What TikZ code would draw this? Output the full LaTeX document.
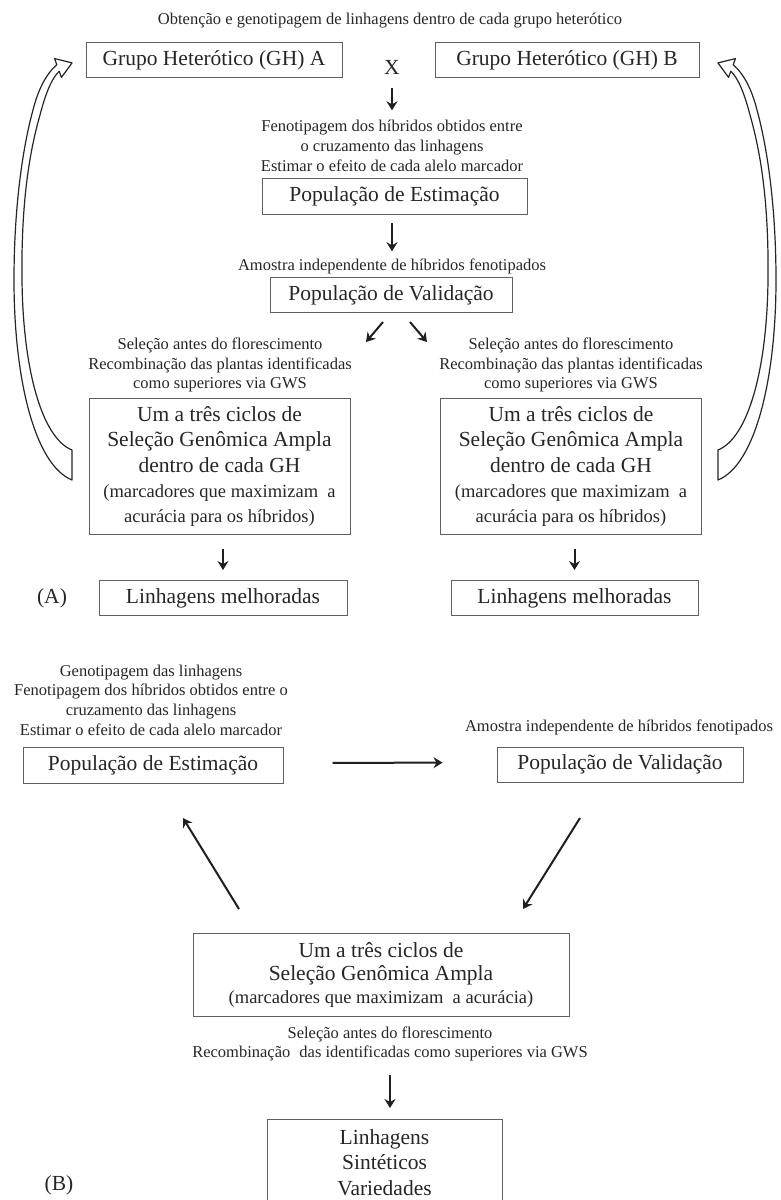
\documentclass[tikz,border=0pt]{standalone}
\usepackage{fontspec}
\setmainfont{Liberation Serif}
\usetikzlibrary{arrows.meta}
\newcommand\bxf{\fontsize{21.5}{25.5}\selectfont}
\newcommand\smf{\fontsize{16.5}{19.7}\selectfont}
\newcommand\pmf{\fontsize{18.5}{24}\selectfont}
\begin{document}
\begin{tikzpicture}[x=1pt,y=-1pt,
 bx/.style={draw=black!62, line width=1pt, inner sep=0pt, minimum height=35pt, font=\bxf, text=black!85},
 txt/.style={inner sep=0pt, align=center, font=\smf, text=black!85},
 arr/.style={draw=black!88, line width=2pt, -{Stealth[length=9pt,width=11pt,inset=3pt]}},
 hollow/.style={draw=black!85, line width=1.2pt, fill=white, line join=round}]
\useasboundingbox (0,0) rectangle (781,1200);
\clip (0,0) rectangle (781,1200);

% ---------- Part A ----------
\node[txt] (title) at (390,21) {Obtenção e genotipagem de linhagens dentro de cada grupo heterótico};
\node[bx, minimum width=256pt] (gha) at (214,60) {Grupo Heterótico (GH) A};
\node[bx, minimum width=264pt] (ghb) at (567,60) {Grupo Heterótico (GH) B};
\node[font=\bxf, inner sep=0pt, text=black!85] (x) at (392,67) {X};
\node[txt] (fen) at (392,146) {Fenotipagem dos híbridos obtidos entre\\o cruzamento das linhagens\\Estimar o efeito de cada alelo marcador};
\node[bx, minimum width=265pt, minimum height=36pt] (esta) at (394.5,196) {População de Estimação};
\node[txt] (amo) at (392,266) {Amostra independente de híbridos fenotipados};
\node[bx, minimum width=242pt] (vala) at (391,295) {População de Validação};
\node[txt] (sell) at (220,365) {Seleção antes do florescimento\\Recombinação das plantas identificadas\\como superiores via GWS};
\node[txt] (selr) at (571,365) {Seleção antes do florescimento\\Recombinação das plantas identificadas\\como superiores via GWS};
\node[bx, minimum width=261pt, minimum height=136pt, align=center] (bigl) at (219.5,466)
  {Um a três ciclos de\\Seleção Genômica Ampla\\dentro de cada GH\\{\pmf (marcadores que maximizam\ \ a}\\[-1pt]{\pmf acurácia para os híbridos)}};
\node[bx, minimum width=261pt, minimum height=136pt, align=center] (bigr) at (571,466)
  {Um a três ciclos de\\Seleção Genômica Ampla\\dentro de cada GH\\{\pmf (marcadores que maximizam\ \ a}\\[-1pt]{\pmf acurácia para os híbridos)}};
\node[bx, minimum width=248pt] (linl) at (223,598) {Linhagens melhoradas};
\node[bx, minimum width=247pt] (linr) at (574.5,598) {Linhagens melhoradas};
\node[font=\bxf, inner sep=0pt, text=black!85] (la) at (52,598) {(A)};

\draw[arr, shorten <=14pt, shorten >=10pt] (x.south) -- (fen.north);
\draw[arr, shorten <=8.5pt, shorten >=7pt] (amo.north |- esta.south) -- (amo.north);
\coordinate (dl) at (366,342);
\coordinate (dr) at (427,342);
\draw[arr] ([xshift=-8pt,yshift=-9pt]vala.south) -- (dl);
\draw[arr] ([xshift=19pt,yshift=-9pt]vala.south) -- (dr);
\draw[arr, shorten <=14pt, shorten >=10pt] (linl.north |- bigl.south) -- (linl.north);
\draw[arr, shorten <=14pt, shorten >=10pt] (linr.north |- bigr.south) -- (linr.north);

% hollow curved arrows
\draw[hollow] (72,450) .. controls (42,438) and (23,370) .. (22,280)
  .. controls (21,200) and (30,150) .. (40,115)
  .. controls (46,92) and (52,78) .. (59.2,71.3)
  -- (61.4,77.4) -- (72.1,62.9) -- (54.6,58.6) -- (56.8,64.7)
  .. controls (46,74) and (38,90) .. (33,110)
  .. controls (22,150) and (14,210) .. (14,280)
  .. controls (14,380) and (35,465) .. (72,480) -- cycle;
\draw[hollow] (718,450) .. controls (748,438) and (767,370) .. (768,280)
  .. controls (769,200) and (760,150) .. (750,115)
  .. controls (744,92) and (738,78) .. (730.8,71.3)
  -- (728.6,77.4) -- (717.9,62.9) -- (735.4,58.6) -- (733.2,64.7)
  .. controls (744,74) and (752,90) .. (757,110)
  .. controls (768,150) and (776,210) .. (776,280)
  .. controls (776,380) and (755,465) .. (718,480) -- cycle;

% ---------- Part B ----------
\node[txt] (gent) at (151,700) {Genotipagem das linhagens\\Fenotipagem dos híbridos obtidos entre o\\cruzamento das linhagens\\Estimar o efeito de cada alelo marcador};
\node[bx, minimum width=260pt, minimum height=36pt] (estb) at (153,765) {População de Estimação};
\node[txt] (amob) at (619,727) {Amostra independente de híbridos fenotipados};
\node[bx, minimum width=246pt] (valb) at (620,764.5) {População de Validação};
\node[bx, minimum width=376pt, minimum height=83pt, align=center, font=\fontsize{21.5}{23}\selectfont] (bigb) at (381,974.5)
  {Um a três ciclos de\\Seleção Genômica Ampla\\{\pmf (marcadores que maximizam\ \ a acurácia)}};
\node[txt] (selb) at (390,1044) {Seleção antes do florescimento\\Recombinação\hspace{5pt} das identificadas como superiores via GWS};
\node[bx, anchor=north, minimum width=235pt, inner ysep=10pt, align=center] (linb) at (384.5,1119) {Linhagens\\Sintéticos\\Variedades};
\node[font=\bxf, inner sep=0pt, text=black!85] (lb) at (59,1185) {(B)};

\draw[arr, shorten <=49pt, shorten >=54pt] ([yshift=2pt]estb.east) -- ([yshift=2pt]valb.west);
\coordinate (r1) at (580,818);
\coordinate (r2) at (523,909);
\coordinate (l1) at (239,909);
\coordinate (l2) at (183,818);
\draw[arr] (r1) -- (r2);
\draw[arr] (l1) -- (l2);
\draw[arr, shorten <=13pt, shorten >=11pt] (selb.south) -- (selb.south |- linb.north);
\end{tikzpicture}
\end{document}
